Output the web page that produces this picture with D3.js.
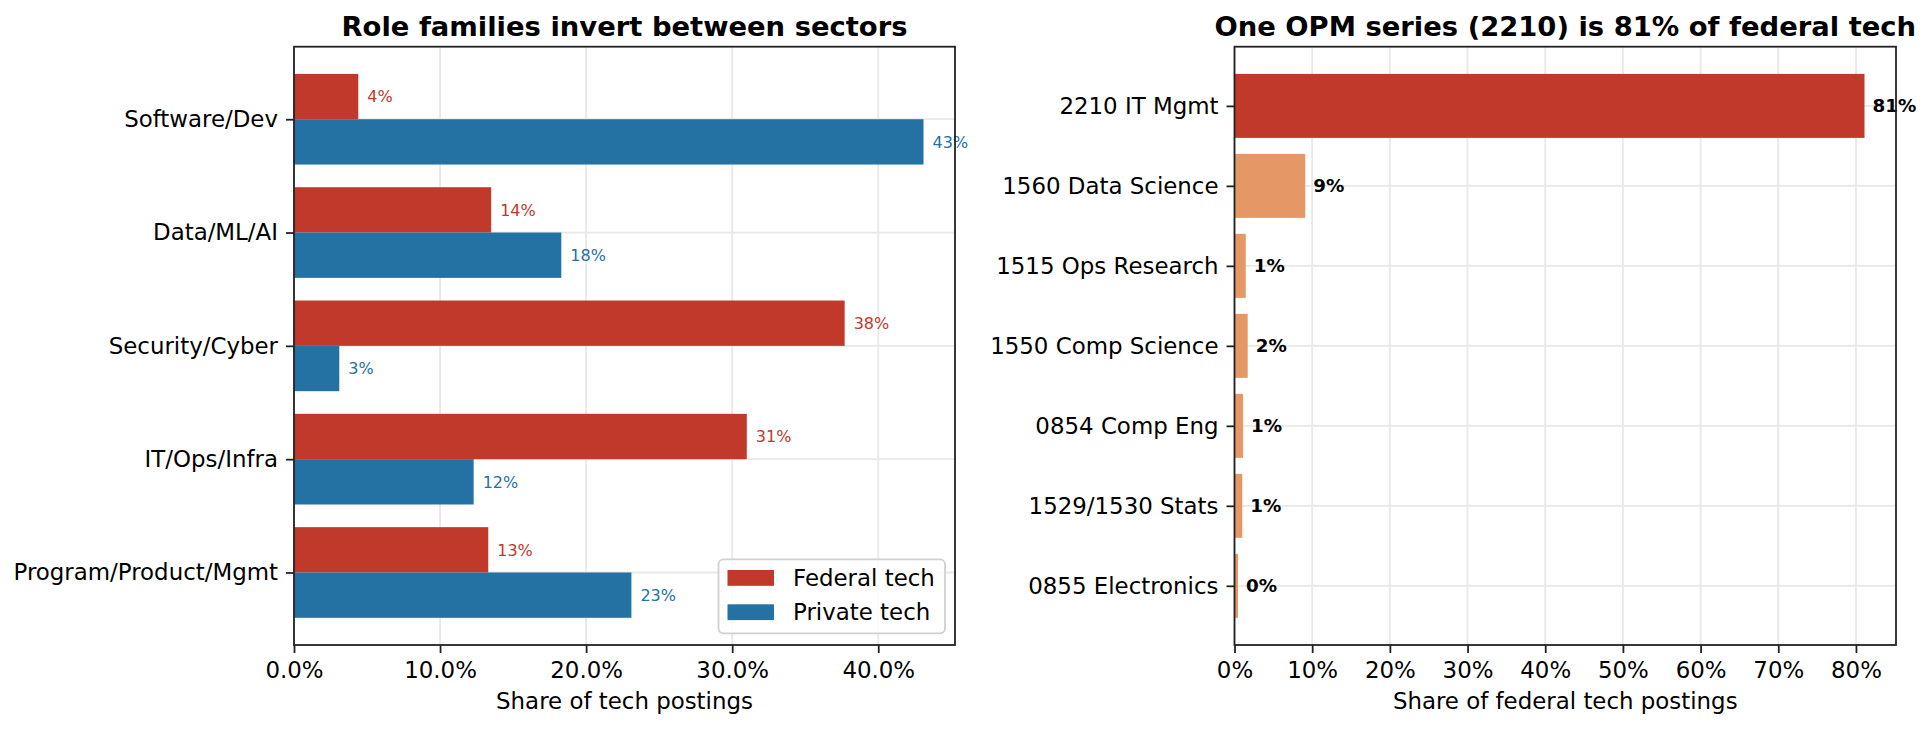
<!DOCTYPE html>
<html>
<head>
<meta charset="utf-8">
<script src="https://cdn.jsdelivr.net/npm/d3@7"></script>
<style>
  html, body { margin: 0; padding: 0; background: #fff; }
  svg { display: block; font-family: "DejaVu Sans", sans-serif; }
</style>
</head>
<body>
<svg id="chart" width="1932" height="730"></svg>
<script>
// ---- Data ----
const roleFamilies = ["Software/Dev", "Data/ML/AI", "Security/Cyber", "IT/Ops/Infra", "Program/Product/Mgmt"];
const federalShare = [4.4, 13.5, 37.7, 31.0, 13.3];
const privateShare = [43.1, 18.3, 3.1, 12.3, 23.1];
const seriesNames = ["Federal tech", "Private tech"];

const opmSeries = ["2210 IT Mgmt", "1560 Data Science", "1515 Ops Research", "1550 Comp Science", "0854 Comp Eng", "1529/1530 Stats", "0855 Electronics"];
const opmShare = [81.1, 9.1, 1.45, 1.7, 1.1, 1.0, 0.45];

const leftTicks = [0, 10, 20, 30, 40];
const rightTicks = [0, 10, 20, 30, 40, 50, 60, 70, 80];

const leftTitle = "Role families invert between sectors";
const rightTitle = "One OPM series (2210) is 81% of federal tech";
const leftXLabel = "Share of tech postings";
const rightXLabel = "Share of federal tech postings";

// ---- Style ----
const RED = "#c0392b", BLUE = "#2471a3", ORANGE = "#e59866";
const GRID = "#e8e8e8", SPINE = "#222222";
const FS = 22.9;

const LBOX = { left: 294.0, right: 955.0, top: 46.7, bottom: 645.0 };
const RBOX = { left: 1234.5, right: 1896.0, top: 46.7, bottom: 645.0 };

const svg = d3.select("#chart");

function panel(cfg) {
  const g = svg.append("g");
  const x = d3.scaleLinear().domain([0, cfg.xmax * 1.05]).range([cfg.left, cfg.right]);
  const y = d3.scaleLinear().domain(cfg.ydom).range([cfg.top, cfg.bottom]);

  g.append("g").selectAll("line").data(cfg.xticks).join("line")
    .attr("x1", d => x(d)).attr("x2", d => x(d))
    .attr("y1", cfg.top).attr("y2", cfg.bottom)
    .attr("stroke", GRID).attr("stroke-width", 1.8);
  g.append("g").selectAll("line").data(cfg.cats.map((c, i) => i)).join("line")
    .attr("x1", cfg.left).attr("x2", cfg.right)
    .attr("y1", d => y(d)).attr("y2", d => y(d))
    .attr("stroke", GRID).attr("stroke-width", 1.8);

  return { g, x, y };
}

// ---------- Left panel ----------
const L = panel(Object.assign({}, LBOX, {
  xmax: d3.max(federalShare.concat(privateShare)),
  ydom: [-0.64, roleFamilies.length - 1 + 0.64],
  xticks: leftTicks, cats: roleFamilies
}));

const barH = 0.4;
const groups = [
  { name: seriesNames[0], vals: federalShare, color: RED, off: -barH / 2 },
  { name: seriesNames[1], vals: privateShare, color: BLUE, off: barH / 2 }
];
groups.forEach(s => {
  L.g.append("g").selectAll("rect").data(s.vals).join("rect")
    .attr("x", L.x(0))
    .attr("y", (d, i) => L.y(i + s.off - barH / 2))
    .attr("width", d => L.x(d) - L.x(0))
    .attr("height", L.y(barH) - L.y(0))
    .attr("fill", s.color);
  L.g.append("g").selectAll("text").data(s.vals).join("text")
    .attr("x", d => L.x(d) + 9)
    .attr("y", (d, i) => L.y(i + s.off))
    .attr("dy", "0.36em")
    .attr("font-size", 16)
    .attr("fill", s.color)
    .text(d => d3.format(".0f")(d) + "%");
});

// ---------- Right panel ----------
const R = panel(Object.assign({}, RBOX, {
  xmax: d3.max(opmShare),
  ydom: [-0.74, opmSeries.length - 1 + 0.74],
  xticks: rightTicks, cats: opmSeries
}));
const bh2 = 0.8;
R.g.append("g").selectAll("rect").data(opmShare).join("rect")
  .attr("x", R.x(0))
  .attr("y", (d, i) => R.y(i - bh2 / 2))
  .attr("width", d => R.x(d) - R.x(0))
  .attr("height", R.y(bh2) - R.y(0))
  .attr("fill", (d, i) => i === 0 ? RED : ORANGE);
R.g.append("g").selectAll("text").data(opmShare).join("text")
  .attr("x", d => R.x(d) + 8)
  .attr("y", (d, i) => R.y(i))
  .attr("dy", "0.36em")
  .attr("font-size", 18.3)
  .attr("font-weight", "bold")
  .attr("fill", "#000")
  .text(d => d3.format(".0f")(d) + "%");

// ---------- Axes, spines, labels ----------
function decorate(P, cfg) {
  const { g, x, y } = P;
  const xAxis = d3.axisBottom(x).tickValues(cfg.xticks).tickFormat(cfg.xfmt)
    .tickSizeInner(8).tickSizeOuter(0).tickPadding(8);
  const ax = g.append("g").attr("transform", `translate(0,${cfg.bottom})`).call(xAxis);
  const yAxis = d3.axisLeft(y).tickValues(cfg.cats.map((c, i) => i)).tickFormat(i => cfg.cats[i])
    .tickSizeInner(8).tickSizeOuter(0).tickPadding(8);
  const ay = g.append("g").attr("transform", `translate(${cfg.left},0)`).call(yAxis);
  [ax, ay].forEach(a => {
    a.select(".domain").remove();
    a.selectAll(".tick line").attr("stroke", SPINE).attr("stroke-width", 1.8);
    a.selectAll(".tick text").attr("font-size", FS).attr("fill", "#000")
      .attr("font-family", "DejaVu Sans");
  });
  ax.selectAll(".tick text").attr("dy", "0.76em");
  g.append("rect")
    .attr("x", cfg.left).attr("y", cfg.top)
    .attr("width", cfg.right - cfg.left).attr("height", cfg.bottom - cfg.top)
    .attr("fill", "none").attr("stroke", SPINE).attr("stroke-width", 1.8);
  g.append("text")
    .attr("x", (cfg.left + cfg.right) / 2).attr("y", 35.5)
    .attr("text-anchor", "middle").attr("font-size", 27.4).attr("font-weight", "bold")
    .attr("fill", "#000").text(cfg.title);
  g.append("text")
    .attr("x", (cfg.left + cfg.right) / 2).attr("y", 709)
    .attr("text-anchor", "middle").attr("font-size", FS)
    .attr("fill", "#000").text(cfg.xlabel);
}

decorate(L, Object.assign({}, LBOX, {
  xticks: leftTicks, xfmt: d => d3.format(".1f")(d) + "%",
  cats: roleFamilies, title: leftTitle, xlabel: leftXLabel
}));
decorate(R, Object.assign({}, RBOX, {
  xticks: rightTicks, xfmt: d => d3.format(".0f")(d) + "%",
  cats: opmSeries, title: rightTitle, xlabel: rightXLabel
}));

// ---------- Legend ----------
const lg = svg.append("g");
lg.append("rect")
  .attr("x", 718.5).attr("y", 559.3).attr("width", 226.5).attr("height", 74)
  .attr("rx", 5).attr("fill", "#fff").attr("fill-opacity", 0.8)
  .attr("stroke", "#d0d0d0").attr("stroke-width", 1.8);
groups.forEach((s, i) => {
  const yy = 570 + i * 34.3;
  lg.append("rect").attr("x", 727.5).attr("y", yy).attr("width", 46.5).attr("height", 15.8).attr("fill", s.color);
  lg.append("text").attr("x", 793).attr("y", yy + 15.6).attr("font-size", FS).attr("fill", "#000").text(s.name);
});
</script>
</body>
</html>
